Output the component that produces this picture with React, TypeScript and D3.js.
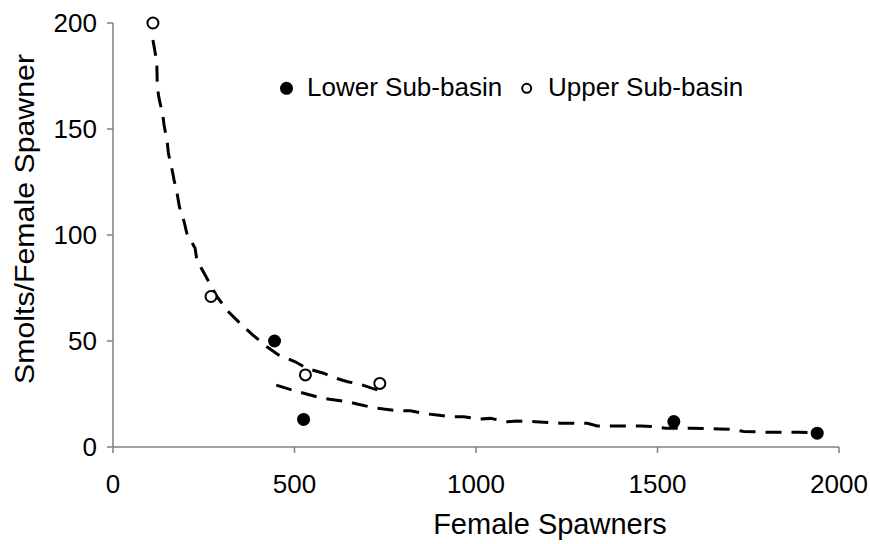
import React from "react";
import * as d3 from "d3";

const lowerX = [445, 525, 1545, 1940];
const lowerY = [50, 13, 12, 6.5];
const upperX = [110, 270, 530, 735];
const upperY = [200, 71, 34, 30];

// fitted trend lines
const upperFitX = [110, 120.6, 122.2, 127.7, 137.1, 140.7, 149.8, 152.6, 161.9, 168.3, 177.4, 182.9, 195.9, 203.3, 226.2, 230.9, 253.8, 286, 318, 355, 385.4, 424, 456, 502, 534.3, 580, 606, 646.3, 679.4, 722.8, 736];
const upperFitY = [192, 181.7, 169.2, 163.7, 156.6, 151.9, 143.3, 138.5, 131.5, 125.9, 118.9, 113.3, 106.3, 100.8, 93.7, 88.2, 81.1, 71, 63.8, 57.5, 52.8, 47.3, 43.4, 40.2, 37.1, 34.8, 32.9, 30.8, 29.7, 27.2, 26.9];
const lowerFitX = [449.7, 493, 520.6, 569, 596.7, 644.7, 672.3, 713.7, 745.7, 787, 819.3, 865.4, 893, 929.7, 966.3, 1012.4, 1040, 1086, 1113.7, 1164, 1233, 1306.8, 1334, 1453.8, 1486, 1522.8, 1596, 1669.8, 1700, 1739, 1817, 1890.5, 1940];
const lowerFitY = [29.2, 26.9, 25.6, 23.3, 22.5, 21.4, 20.3, 18.7, 17.9, 17.1, 17.1, 15.6, 15.1, 14.3, 14.3, 13.2, 13.5, 11.9, 12.3, 11.9, 11.2, 11.2, 9.9, 9.9, 9.6, 8.8, 8.8, 8.5, 8.4, 7.3, 6.9, 6.9, 6.8];

const xTicks = [0, 500, 1000, 1500, 2000];
const yTicks = [0, 50, 100, 150, 200];
const legendLabels = ["Lower Sub-basin", "Upper Sub-basin"];

const W = 870;
const H = 544;
const FONT = "'Liberation Sans', Arial, sans-serif";

export default function App() {
  const x = d3.scaleLinear().domain([0, 2000]).range([113, 839]);
  const y = d3.scaleLinear().domain([0, 200]).range([447, 23]);
  const line = d3
    .line<[number, number]>()
    .x((d) => x(d[0]))
    .y((d) => y(d[1]));
  const upperFit = upperFitX.map((v, i) => [v, upperFitY[i]] as [number, number]);
  const lowerFit = lowerFitX.map((v, i) => [v, lowerFitY[i]] as [number, number]);
  const axisColor = "#808080";
  const x0 = x(0);
  const y0 = y(0);

  return (
    <svg
      width={W}
      height={H}
      style={{ position: "absolute", left: 0, top: 0, background: "#fff" }}
      fontFamily={FONT}
    >
      <rect x={0} y={0} width={W} height={H} fill="#fff" />
      {/* axes */}
      <line x1={x0} y1={y(200)} x2={x0} y2={y0} stroke={axisColor} strokeWidth={1.5} />
      <line x1={x0} y1={y0} x2={x(2000)} y2={y0} stroke={axisColor} strokeWidth={1.5} />
      {yTicks.map((t) => (
        <g key={"y" + t}>
          <line x1={x0 - 6} x2={x0} y1={y(t)} y2={y(t)} stroke={axisColor} strokeWidth={1.5} />
          <text x={x0 - 16} y={y(t)} dy="0.36em" textAnchor="end" fontSize={26} fill="#000">
            {t}
          </text>
        </g>
      ))}
      {xTicks.map((t) => (
        <g key={"x" + t}>
          <line x1={x(t)} x2={x(t)} y1={y0} y2={y0 + 6} stroke={axisColor} strokeWidth={1.5} />
          <text x={x(t)} y={y0 + 46} textAnchor="middle" fontSize={26} fill="#000">
            {t}
          </text>
        </g>
      ))}
      <text x={550} y={534} textAnchor="middle" fontSize={29} fill="#000">
        Female Spawners
      </text>
      <text
        transform={`translate(34,219) rotate(-90)`}
        textAnchor="middle"
        fontSize={27}
        textLength={330}
        lengthAdjust="spacingAndGlyphs"
        fill="#000"
      >
        Smolts/Female Spawner
      </text>

      {/* trend lines */}
      <path d={line(upperFit) || ""} fill="none" stroke="#000" strokeWidth={3} strokeDasharray="16,10" />
      <path d={line(lowerFit) || ""} fill="none" stroke="#000" strokeWidth={3} strokeDasharray="16,10" />

      {/* points */}
      {lowerX.map((v, i) => (
        <circle key={"l" + i} cx={x(v)} cy={y(lowerY[i])} r={6.5} fill="#000" />
      ))}
      {upperX.map((v, i) => (
        <circle key={"u" + i} cx={x(v)} cy={y(upperY[i])} r={5.5} fill="#fff" stroke="#000" strokeWidth={2} />
      ))}

      {/* legend */}
      <circle cx={286.5} cy={88.3} r={6.5} fill="#000" />
      <text x={307} y={96} fontSize={26} fill="#000">
        {legendLabels[0]}
      </text>
      <circle cx={526.7} cy={88.3} r={4.5} fill="#fff" stroke="#000" strokeWidth={2} />
      <text x={548} y={96} fontSize={26} fill="#000">
        {legendLabels[1]}
      </text>
    </svg>
  );
}
